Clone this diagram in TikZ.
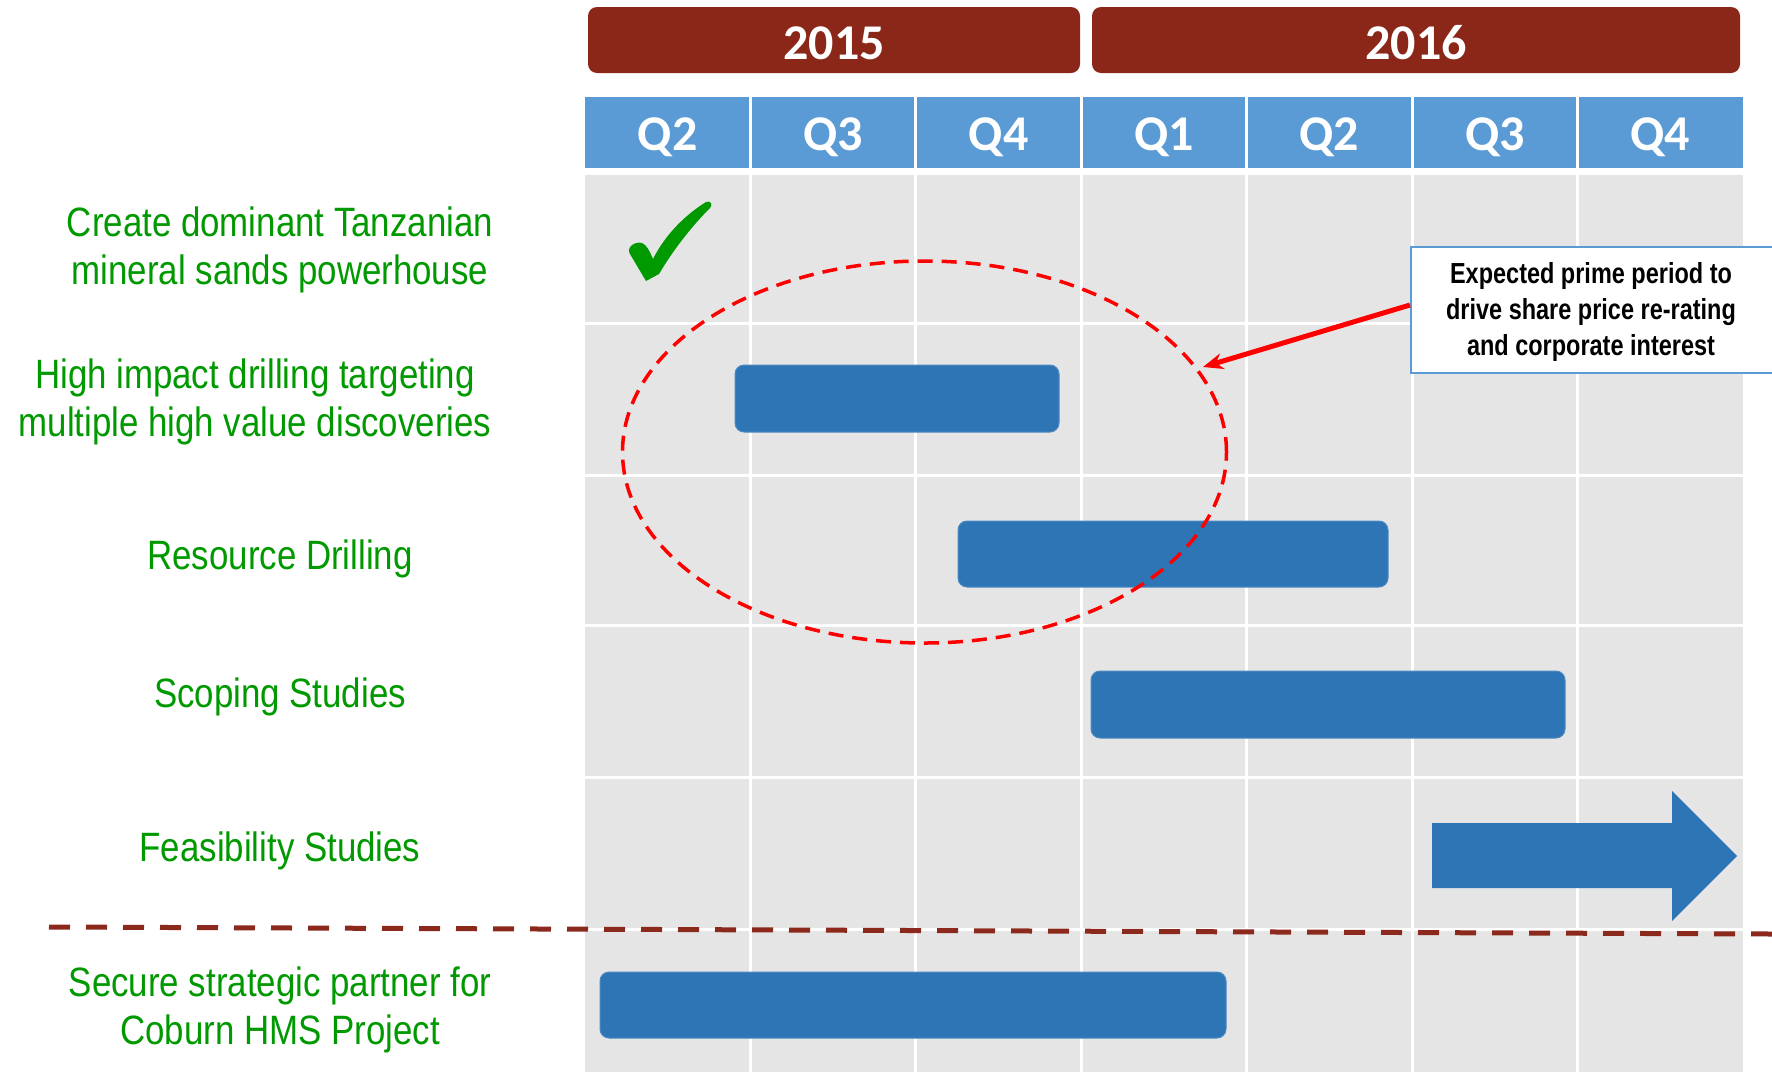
\documentclass[tikz,border=0pt]{standalone}
\usepackage{fontspec}
\setmainfont{Liberation Sans}
\newfontfamily\narrowfont[FakeStretch=0.85]{Liberation Sans}
\newfontfamily\notefont[FakeStretch=0.81]{Liberation Sans}
\newfontfamily\headfont{Carlito}
\usetikzlibrary{arrows.meta}
\definecolor{yearred}{HTML}{8A2719}
\definecolor{qblue}{HTML}{5B9BD5}
\definecolor{barblue}{HTML}{2E75B6}
\definecolor{cellgray}{HTML}{E5E5E5}
\definecolor{labelgreen}{HTML}{009900}
\definecolor{linered}{HTML}{8B2A1C}
\definecolor{alertred}{HTML}{FF0000}
\begin{document}
\begin{tikzpicture}[x=1pt,y=-1pt,
  yearbox/.style={fill=yearred, rounded corners=9pt, inner sep=0pt, text=white,
    font=\headfont\bfseries\fontsize{50}{60}\selectfont},
  qlabel/.style={text=white, inner sep=0pt, font=\headfont\bfseries\fontsize{50}{60}\selectfont},
  barbox/.style={fill=barblue, draw=barblue!85!white, line width=1pt, rounded corners=9pt, inner sep=0pt},
  goal/.style={text=labelgreen, align=center, inner sep=0pt,
    font=\narrowfont\fontsize{41}{47.5}\selectfont},
  callout/.style={fill=white, draw=qblue, line width=2pt, align=center, inner sep=0pt,
    font=\notefont\bfseries\fontsize{29}{35.6}\selectfont},
  gridline/.style={white, line width=3pt},
  divider/.style={linered, line width=5pt, dash pattern=on 21pt off 16pt},
  ringline/.style={alertred, line width=3.5pt, dash pattern=on 15pt off 9pt},
  pointer/.style={alertred, line width=5pt, -{Stealth[length=20pt,width=16pt]}}]

\useasboundingbox (0,0) rectangle (1772,1072);
\fill[white] (0,0) rectangle (1772,1072);

% year headers
\node[yearbox, minimum width=492pt, minimum height=66pt] (y2015) at (834,40) {};
\node[yearbox, minimum width=648pt, minimum height=66pt] (y2016) at (1416,40) {};
\node[qlabel] at (834,43) {2015};
\node[qlabel] at (1416,43) {2016};

% quarter header row
\fill[qblue] (585,97) rectangle (1743,168);
\foreach \i in {1,...,6}
  \draw[gridline] ({585+165.43*\i},97) -- ({585+165.43*\i},168);
\foreach \i/\q in {0/Q2,1/Q3,2/Q4,3/Q1,4/Q2,5/Q3,6/Q4}
  \node[qlabel] (q\i) at ({585+165.43*(\i+0.5)},137.5) {\q};

% timeline grid
\fill[cellgray] (585,175) rectangle (1743,1072);
\foreach \i in {1,...,6}
  \draw[gridline] ({585+165.43*\i},175) -- ({585+165.43*\i},1072);
\foreach \r in {323,475,625,777.5,929}
  \draw[gridline] (585,\r) -- (1743,\r);

% completed milestone
\fill[labelgreen] (646,281) -- (630,254) .. controls (626,248) and (634,241) .. (642,243)
  .. controls (647,245) and (650,252) .. (653,259)
  .. controls (665,235) and (685,215) .. (706,202)
  .. controls (711,200) and (713,205) .. (710,208)
  .. controls (690,228) and (672,252) .. (659,274) -- cycle;

% activity bars
\node[barbox, minimum width=324pt, minimum height=67pt] (drill) at (897,398.5) {};
\node[barbox, minimum width=430pt, minimum height=66pt] (resource) at (1173,554) {};
\node[barbox, minimum width=474pt, minimum height=67pt] (scoping) at (1328,704.5) {};
\node[barbox, minimum width=626pt, minimum height=66pt] (partner) at (913,1005) {};
\fill[barblue] (1432,823) -- (1672,823) -- (1672,791) -- (1737,856) -- (1672,921)
  -- (1672,888) -- (1432,888) -- cycle;

% separator
\coordinate (sepL) at (49,927);
\coordinate (sepR) at (1772,934);
\draw[divider] (sepL) -- (sepR);

% highlighted period
\draw[ringline] (924.5,452) ellipse [x radius=302pt, y radius=191pt];

% callout
\node[callout, minimum width=362pt, minimum height=126pt] (note) at (1592,310) {};
\node[callout, draw=none, fill=none] at (1591,312)
  {Expected prime period to\\drive share price re-rating\\and corporate interest};
\coordinate (ringpt) at (1203,367);
\draw[pointer] ([yshift=5pt]note.west) -- (ringpt);

% goals
\node[goal] (g1) at (280,250) {Create dominant Tanzanian\\mineral sands powerhouse};
\node[goal] (g2) at (255,402) {High impact drilling targeting\\multiple high value discoveries};
\node[goal] (g3) at (280,559) {Resource Drilling};
\node[goal] (g4) at (280,697) {Scoping Studies};
\node[goal] (g5) at (280,851) {Feasibility Studies};
\node[goal] (g6) at (280,1010) {Secure strategic partner for\\Coburn HMS Project};
\end{tikzpicture}
\end{document}
